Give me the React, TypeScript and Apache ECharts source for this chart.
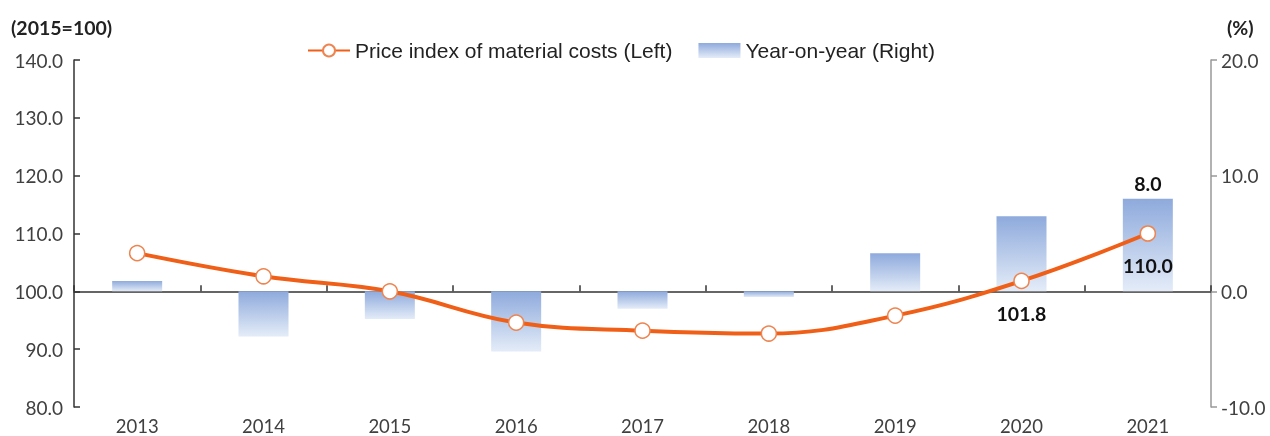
import React, { useEffect, useRef } from "react";
import * as echarts from "echarts";

const years = ["2013", "2014", "2015", "2016", "2017", "2018", "2019", "2020", "2021"];
const priceIndex = [106.6, 102.6, 100.0, 94.6, 93.2, 92.7, 95.8, 101.8, 110.0];
const yoy = [0.9, -3.9, -2.4, -5.2, -1.5, -0.5, 3.3, 6.5, 8.0];
const leftTicks = { min: 80, max: 140, interval: 10 };
const rightTicks = { min: -10, max: 20, interval: 10 };
const priceLabelIdx = [7, 8];
const yoyLabelIdx = [8];

export default function App() {
  const ref = useRef<HTMLDivElement>(null);
  useEffect(() => {
    document.body.style.margin = "0";
    const chart = echarts.init(ref.current!, null, { renderer: "svg" });
    const axisFont = { fontFamily: "Lato", fontSize: 19, color: "#404040" };
    const barGrad = new echarts.graphic.LinearGradient(0, 0, 0, 1, [
      { offset: 0, color: "#8eaadc" },
      { offset: 1, color: "#e4ecf8" },
    ]);
    const labelStyle = {
      fontFamily: "Lato",
      fontSize: 19.5,
      fontWeight: "bold" as const,
      color: "#111",
    };
    chart.setOption({
      animation: false,
      grid: { left: 74, right: 59, top: 60, bottom: 29, containLabel: false },
      legend: {
        top: 35,
        left: 302,
        itemGap: 26,
        itemWidth: 42,
        itemHeight: 15,
        textStyle: { fontFamily: "Liberation Sans", fontSize: 21, color: "#222" },
        data: [
          { name: "Price index of material costs (Left)" },
          { name: "Year-on-year (Right)", icon: "rect" },
        ],
      },
      graphic: [
        {
          type: "text",
          left: 11,
          top: 17,
          style: { text: "(2015=100)", fontFamily: "Lato", fontSize: 19.5, fontWeight: "bold", fill: "#222" },
        },
        {
          type: "text",
          left: 1227,
          top: 17,
          style: { text: "(%)", fontFamily: "Lato", fontSize: 19.5, fontWeight: "bold", fill: "#222" },
        },
      ],
      xAxis: [
        {
          type: "category",
          data: years,
          axisLine: { show: false },
          axisTick: { show: false },
          axisLabel: { ...axisFont, fontSize: 18.5, margin: 9 },
        },
        {
          type: "category",
          data: years,
          position: "bottom",
          axisLine: { show: true, onZero: true, onZeroAxisIndex: 1, lineStyle: { color: "#333", width: 1.5 } },
          axisTick: { show: true, inside: true, length: 6, lineStyle: { color: "#333", width: 1.5 } },
          axisLabel: { show: false },
        },
      ],
      yAxis: [
        {
          type: "value",
          ...leftTicks,
          position: "left",
          splitLine: { show: false },
          axisLine: { show: true, lineStyle: { color: "#333", width: 1.5 } },
          axisTick: { show: true, inside: true, length: 6, lineStyle: { color: "#333", width: 1.5 } },
          axisLabel: { ...axisFont, margin: 11, formatter: (v: number) => v.toFixed(1) },
        },
        {
          type: "value",
          ...rightTicks,
          position: "right",
          splitLine: { show: false },
          axisLine: { show: true, lineStyle: { color: "#999", width: 1.5 } },
          axisTick: { show: true, inside: false, length: 6, lineStyle: { color: "#999", width: 1.5 } },
          axisLabel: { ...axisFont, margin: 10, formatter: (v: number) => v.toFixed(1) },
        },
      ],
      series: [
        {
          name: "Year-on-year (Right)",
          type: "bar",
          xAxisIndex: 0,
          yAxisIndex: 1,
          barWidth: 50,
          itemStyle: { color: barGrad },
          data: yoy.map((v, i) => ({
            value: v,
            label: yoyLabelIdx.includes(i)
              ? { show: true, position: "top", distance: 5, ...labelStyle, formatter: (p: any) => p.value.toFixed(1) }
              : { show: false },
          })),
          z: 1,
        },
        {
          name: "Price index of material costs (Left)",
          type: "line",
          xAxisIndex: 0,
          yAxisIndex: 0,
          smooth: 0.4,
          symbol: "circle",
          symbolSize: 15,
          lineStyle: { color: "#f05f17", width: 4 },
          itemStyle: { color: "#fff", borderColor: "#ee8450", borderWidth: 1.5 },
          data: priceIndex.map((v, i) => ({
            value: v,
            label: priceLabelIdx.includes(i)
              ? { show: true, position: "bottom", distance: 14, ...labelStyle, formatter: (p: any) => p.value.toFixed(1) }
              : { show: false },
          })),
          z: 3,
        },
      ],
    });
    return () => chart.dispose();
  }, []);
  return <div ref={ref} style={{ position: "fixed", left: 0, top: 0, width: 1270, height: 436 }} />;
}
